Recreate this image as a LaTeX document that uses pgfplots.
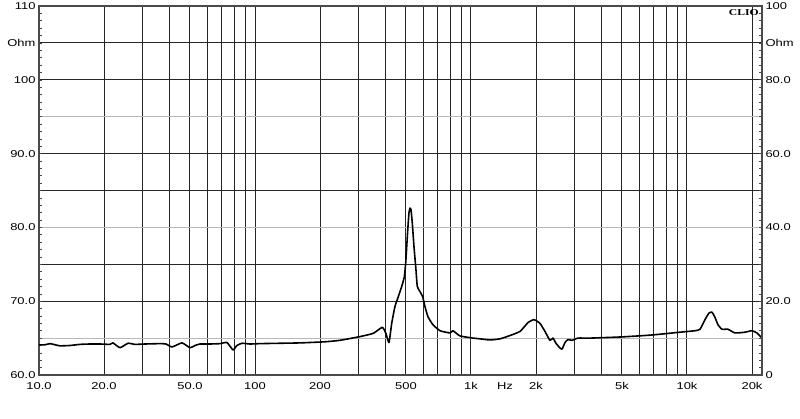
\documentclass[border=0pt]{standalone}
\usepackage{fontspec}
\setmainfont{Liberation Sans}[FakeStretch=1.3]
\newfontfamily\cliofont{Liberation Serif}[FakeStretch=1.3]
\usepackage{pgfplots}
\usepackage{pgfplotstable}
\pgfplotsset{compat=1.18}

\definecolor{gridd}{HTML}{262626}
\definecolor{gridl}{HTML}{B8B8B8}
\definecolor{framec}{HTML}{4A4A4A}

% impedance curve (Hz, left scale)
\pgfplotstableread{
f z
10 64.07
10.66 64.1
11.24 64.25
11.86 64.1
12.51 63.95
13.92 64.0
15.48 64.15
17.22 64.2
19.16 64.2
21.32 64.15
22.01 64.35
23.71 63.7
25.82 64.3
27.83 64.15
30.95 64.2
36.33 64.25
38.73 64.2
41.28 63.8
45.92 64.35
50.02 63.7
52.76 64.0
55.65 64.2
61.90 64.2
68.87 64.25
74.19 64.4
79.1 63.4
82.5 64.0
87.1 64.3
94.8 64.2
105.5 64.25
130.5 64.3
161.6 64.35
211 64.5
247.5 64.7
306 65.2
353 65.65
388.6 66.46
404 65.6
417.2 64.4
429.5 67.0
444.8 69.3
460.7 70.6
477.8 72.0
491.2 73.3
498.6 75.2
504 77.4
509.4 79.6
516.4 82.0
521.9 82.6
527.5 82.4
534.8 80.6
544.6 77.4
556.4 74.2
564.2 72.0
580.6 71.3
597.6 70.6
612 69.3
632 67.9
667 66.8
719 66.0
799 65.7
825 66.0
889 65.3
1021 65.0
1101 64.9
1225 64.75
1362 64.9
1516 65.35
1686 65.9
1836 67.1
1957 67.5
2086 67.0
2201 65.9
2321 64.7
2396 65.0
2474 64.3
2555 63.8
2638 63.5
2724 64.4
2812 64.8
2935 64.7
3130 65.0
3556 65.0
4896 65.15
6743 65.4
9281 65.8
10890 66.0
11486 66.2
12115 67.5
12646 68.4
13057 68.5
13482 67.8
13920 66.8
14521 66.2
15480 66.2
16684 65.7
18557 65.8
19990 66.0
21090 65.7
22246 65.0
}\imp

\pgfplotsset{
  every tick label/.append style={font=\fontsize{10}{12}\selectfont},
}

\begin{document}
\begin{tikzpicture}
\useasboundingbox (-39bp,-44bp) rectangle (761bp,375bp);

\begin{semilogxaxis}[
  at={(0,0)}, anchor=south west,
  width=723bp, height=369bp, scale only axis,
  xmin=10, xmax=22250, ymin=60, ymax=110,
  axis line style={framec, line width=1.5pt},
  xtick={10,20,50,100,200,500,1000,2000,5000,10000,20000},
  xticklabels={10.0,20.0,50.0,100,200,500,1k,2k,5k,10k,20k},
  minor xtick={30,40,60,70,80,90,300,400,600,700,800,900,3000,4000,6000,7000,8000,9000},
  xmajorgrids, xminorgrids,
  major x tick style={draw=none},
  minor x tick style={draw=none},
  extra x ticks={1436}, extra x tick labels={Hz},
  extra x tick style={grid=none},
  ytick={60,70,75,85,90,100,105,110},
  yticklabels={60.0,70.0,,,90.0,100,Ohm,110},
  extra y ticks={65,80,95}, extra y tick labels={,80.0,},
  extra y tick style={major grid style={gridl, line width=1.1pt}},
  minor ytick={60,61,...,110},
  ymajorgrids,
  ytick pos=left,
  major grid style={gridd, line width=1pt},
  minor grid style={gridd, line width=1pt},
  ytick style={framec, line width=0.6pt},
  major tick length=3bp, minor tick length=3bp,
  xticklabel style={yshift=-4bp},
  clip=true,
]
\addplot[black, line width=1.6pt, line join=round, smooth, tension=0.3] table[x=f, y=z] {\imp};
\node[anchor=north east, inner sep=1bp, font=\cliofont\bfseries\fontsize{9}{10}\selectfont]
  at (rel axis cs:0.997,0.993) {CLIO};
\end{semilogxaxis}

\begin{semilogxaxis}[
  at={(0,0)}, anchor=south west,
  width=723bp, height=369bp, scale only axis,
  xmin=10, xmax=22250, ymin=0, ymax=100,
  hide x axis,
  axis y line*=right,
  y axis line style={-, framec, line width=1.5pt},
  ytick={0,20,40,60,80,100},
  yticklabels={0,20.0,40.0,60.0,80.0,100},
  extra y ticks={90}, extra y tick labels={Ohm},
  minor ytick={0,2,...,100},
  ytick style={framec, line width=0.6pt},
  major tick length=3bp, minor tick length=3bp,
  yticklabel style={anchor=west},
]
\end{semilogxaxis}
\end{tikzpicture}
\end{document}
